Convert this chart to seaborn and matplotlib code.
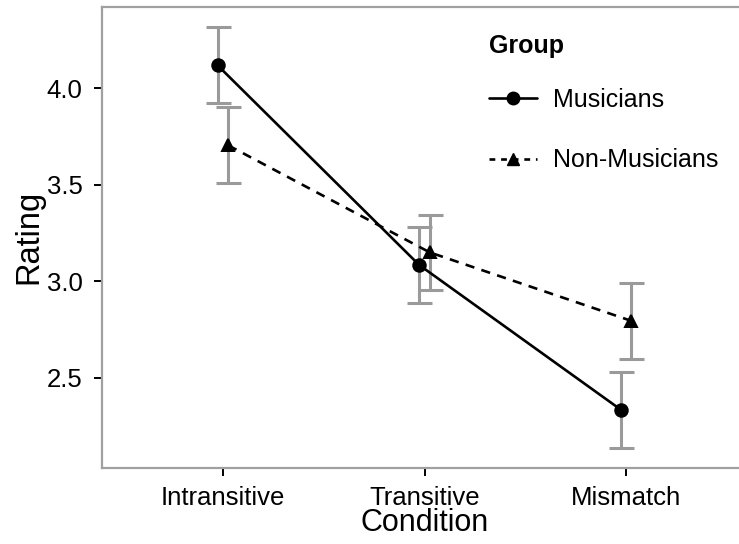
import matplotlib
matplotlib.use("Agg")
import matplotlib.pyplot as plt
from matplotlib.lines import Line2D
import seaborn as sns
import pandas as pd
import numpy as np

conditions = ["Intransitive", "Transitive", "Mismatch"]
groups = ["Musicians", "Non-Musicians"]
musicians = [4.12, 3.085, 2.335]
non_musicians = [3.705, 3.15, 2.795]
musicians_err = [0.197, 0.197, 0.197]
non_musicians_err = [0.197, 0.196, 0.196]
yticks = [2.5, 3.0, 3.5, 4.0]

df = pd.DataFrame({
    "Condition": conditions * 2,
    "Rating": musicians + non_musicians,
    "Group": [groups[0]] * 3 + [groups[1]] * 3,
    "err": musicians_err + non_musicians_err,
})

sns.set_style("white")
plt.rcParams["font.family"] = ["Liberation Sans", "DejaVu Sans"]
plt.rcParams["text.color"] = "black"
plt.rcParams["axes.labelcolor"] = "black"
plt.rcParams["xtick.color"] = "black"
plt.rcParams["ytick.color"] = "black"

fig = plt.figure(figsize=(7.39, 5.44), dpi=100)
ax = fig.add_axes([102 / 739, (544 - 467.5) / 544, 645 / 739, 461 / 544])

dodge = 0.053
for i, g in enumerate(groups):
    sub = df[df["Group"] == g]
    xpos = np.arange(len(conditions)) + (i - 0.5) * dodge
    ax.errorbar(xpos, sub["Rating"], yerr=sub["err"], fmt="none",
                ecolor="#9a9a9a", elinewidth=2.2, capsize=9, capthick=2.2, zorder=1)

sns.pointplot(data=df, x="Condition", y="Rating", hue="Group", order=conditions,
              hue_order=groups, palette=["black", "black"], markers=["o", "^"],
              linestyles=["-", (0, (3.5, 2.8))], dodge=dodge, errorbar=None,
              markersize=9, linewidth=1.9, ax=ax, legend=False, zorder=3)

ax.set_xlim(-0.6, 2.6)
ax.set_ylim(2.035, 4.425)
ax.set_yticks(yticks)
ax.set_yticklabels([f"{v:.1f}" for v in yticks])

for s in ["top", "bottom", "left", "right"]:
    ax.spines[s].set_color("#a0a0a0")
    ax.spines[s].set_linewidth(1.6)
ax.spines["right"].set_visible(False)

ax.tick_params(axis="x", which="major", length=6, width=1.4, color="black",
               labelsize=18.5, pad=7, direction="out", bottom=True, labelcolor="black")
ax.tick_params(axis="y", which="major", length=6, width=1.4, color="black",
               labelsize=18.5, pad=8, direction="out", left=True, labelcolor="black")
ax.set_xlabel("Condition", fontsize=22, labelpad=-1)
ax.set_ylabel("Rating", fontsize=23.5, labelpad=2)

handles = [
    Line2D([0], [0], color="black", lw=1.9, ls="-", marker="o", markersize=9),
    Line2D([0], [0], color="black", lw=1.9, ls=(0, (2.2, 2.2)), marker="^", markersize=9),
]
leg = ax.legend(handles, groups, title="Group", loc="upper left",
                bbox_to_anchor=(476 / 739, 1 - 22 / 544), bbox_transform=fig.transFigure,
                frameon=False, fontsize=18, title_fontsize=18, handlelength=1.95,
                handletextpad=0.62, labelspacing=1.47, alignment="left", borderpad=0)
leg.get_title().set_fontweight("bold")
leg._legend_box.sep = 21

fig.savefig("out.png", dpi=100)
